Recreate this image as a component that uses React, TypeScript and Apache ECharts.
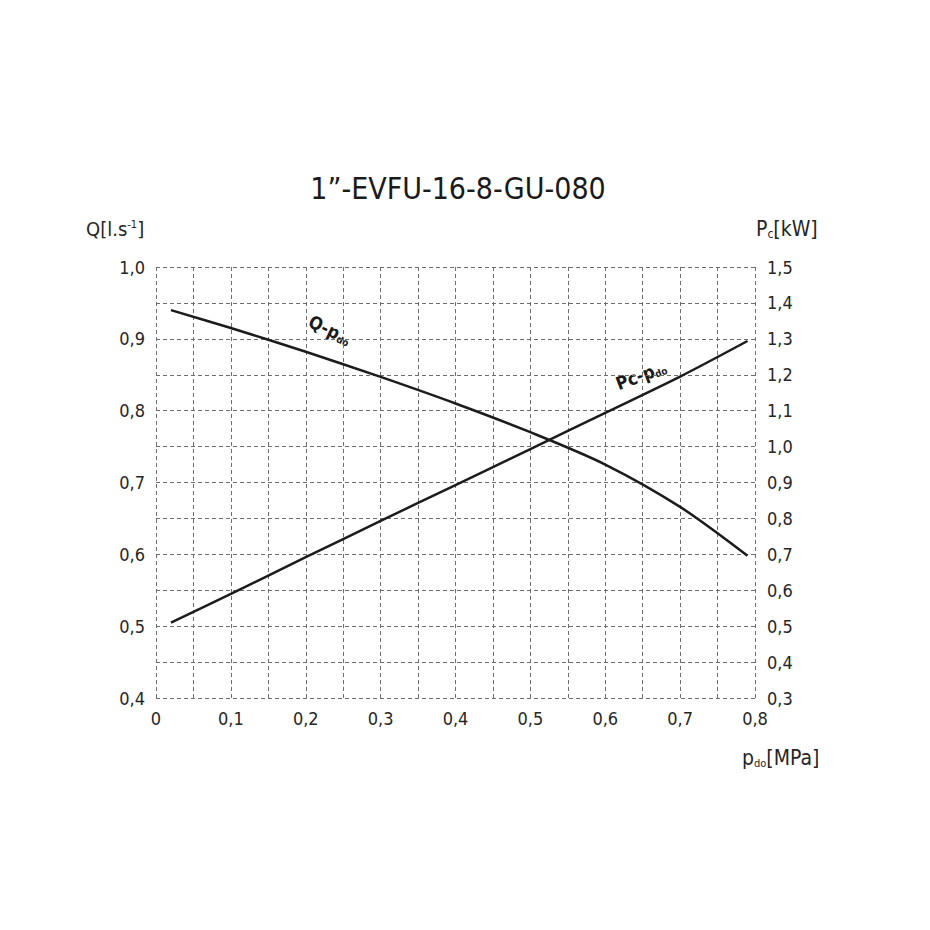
import React, { useEffect, useRef } from "react";
import * as echarts from "echarts";

const titleText = "1”-EVFU-16-8-GU-080";
const qX = [0.02, 0.1, 0.2, 0.3, 0.4, 0.5, 0.6, 0.7, 0.79];
const qY = [0.94, 0.915, 0.882, 0.847, 0.81, 0.77, 0.725, 0.666, 0.598];
const pcX = [0.02, 0.1, 0.2, 0.3, 0.4, 0.5, 0.6, 0.7, 0.79];
const pcY = [0.51, 0.59, 0.692, 0.793, 0.893, 0.993, 1.094, 1.195, 1.294];

const FONT = "'Liberation Sans Narrow', 'DejaVu Sans Condensed', 'Liberation Sans', Arial, sans-serif";
const fmtComma = (v: number) => (Math.abs(v) < 1e-9 ? "0" : v.toFixed(1).replace(".", ","));

export default function App() {
  const ref = useRef<HTMLDivElement>(null);
  useEffect(() => {
    if (!ref.current) return;
    const chart = echarts.init(ref.current, null, { renderer: "svg" });
    const grid = { left: 156, right: 175, top: 267, bottom: 232 };
    const splitLine = { show: true, lineStyle: { color: "#6e6e6e", type: [4, 3], width: 1 } };
    const labelStyle = { color: "#262626", fontSize: 18, fontFamily: FONT };
    const sub = (size: number, pad: number[]) => ({ fontSize: size, fontFamily: FONT, fill: "#262626", padding: pad });
    chart.setOption({
      animation: false,
      backgroundColor: "#ffffff",
      grid,
      xAxis: {
        type: "value",
        min: 0,
        max: 0.8,
        interval: 0.05,
        axisLine: { show: false },
        axisTick: { show: false },
        splitLine,
        axisLabel: {
          ...labelStyle,
          margin: 11,
          formatter: (v: number) => (Math.round(v * 100) % 10 === 0 ? fmtComma(v) : ""),
        },
      },
      yAxis: [
        {
          type: "value",
          min: 0.4,
          max: 1.0,
          interval: 0.05,
          axisLine: { show: false },
          axisTick: { show: false },
          splitLine,
          axisLabel: {
            ...labelStyle,
            margin: 11,
            formatter: (v: number) => (Math.round(v * 100) % 10 === 0 ? fmtComma(v) : ""),
          },
        },
        {
          type: "value",
          min: 0.3,
          max: 1.5,
          interval: 0.1,
          position: "right",
          axisLine: { show: false },
          axisTick: { show: false },
          splitLine: { show: false },
          axisLabel: { ...labelStyle, margin: 12, formatter: (v: number) => fmtComma(v) },
        },
      ],
      series: [
        {
          type: "line",
          yAxisIndex: 0,
          smooth: 0.3,
          symbol: "none",
          lineStyle: { color: "#1c1c1c", width: 2.5 },
          data: qX.map((x, i) => [x, qY[i]]),
        },
        {
          type: "line",
          yAxisIndex: 1,
          smooth: 0.3,
          symbol: "none",
          lineStyle: { color: "#1c1c1c", width: 2.5 },
          data: pcX.map((x, i) => [x, pcY[i]]),
        },
      ],
      graphic: [
        {
          type: "text",
          x: 458,
          y: 188,
          style: {
            text: titleText,
            fontSize: 30,
            fontFamily: FONT,
            fill: "#1a1a1a",
            align: "center",
            verticalAlign: "middle",
          },
        },
        {
          type: "text",
          x: 86,
          y: 229,
          style: {
            text: "{m|Q[l.s}{s|-1}{m|]}",
            verticalAlign: "middle",
            rich: {
              m: { fontSize: 20, fontFamily: FONT, fill: "#262626" },
              s: { ...sub(11, [0, 0, 8, 0]), verticalAlign: "top" },
            },
          },
        },
        {
          type: "text",
          x: 756,
          y: 229,
          style: {
            text: "{m|P}{s|c}{m|[kW]}",
            verticalAlign: "middle",
            rich: {
              m: { fontSize: 21, fontFamily: FONT, fill: "#262626" },
              s: sub(12, [10, 0, 0, 0]),
            },
          },
        },
        {
          type: "text",
          x: 742,
          y: 758,
          style: {
            text: "{m|p}{s|do}{m|[MPa]}",
            verticalAlign: "middle",
            rich: {
              m: { fontSize: 21, fontFamily: FONT, fill: "#262626" },
              s: sub(11, [10, 0, 0, 0]),
            },
          },
        },
        {
          type: "text",
          x: 330,
          y: 330,
          rotation: -0.45,
          style: {
            text: "{m|Q-p}{s|do}",
            align: "center",
            verticalAlign: "middle",
            rich: {
              m: { fontSize: 18, fontWeight: "bold", fontFamily: FONT, fill: "#1a1a1a" },
              s: { fontSize: 10, fontWeight: "bold", fontFamily: FONT, fill: "#1a1a1a", padding: [9, 0, 0, 0] },
            },
          },
        },
        {
          type: "text",
          x: 641,
          y: 375,
          rotation: 0.36,
          style: {
            text: "{m|Pc-p}{s|do}",
            align: "center",
            verticalAlign: "middle",
            rich: {
              m: { fontSize: 18, fontWeight: "bold", fontFamily: FONT, fill: "#1a1a1a" },
              s: { fontSize: 10, fontWeight: "bold", fontFamily: FONT, fill: "#1a1a1a", padding: [9, 0, 0, 0] },
            },
          },
        },
      ],
    });
    return () => chart.dispose();
  }, []);
  return (
    <div
      ref={ref}
      style={{ position: "fixed", left: 0, top: 0, width: 930, height: 930, background: "#fff" }}
    />
  );
}
